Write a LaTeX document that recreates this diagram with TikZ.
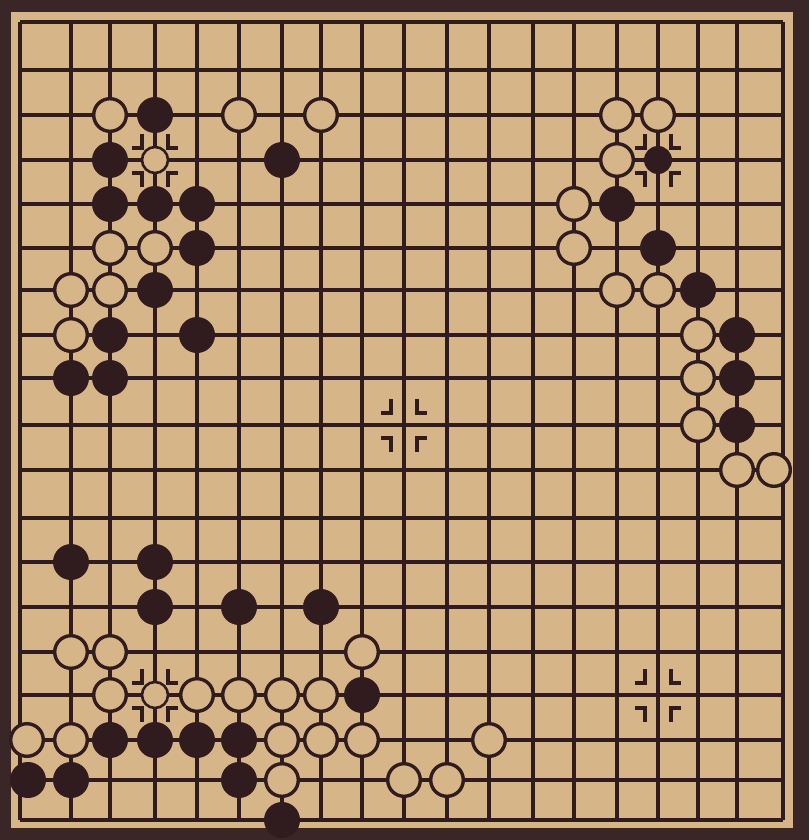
\documentclass[tikz,border=0pt]{standalone}
\definecolor{paper}{RGB}{214,181,136}
\definecolor{ink}{RGB}{48,28,30}
\definecolor{framec}{RGB}{58,38,38}
\begin{document}
\begin{tikzpicture}[x=0.5pt,y=-0.5pt,
  gridline/.style={ink,line width=1.6pt},
  bstone/.style={circle,fill=ink,minimum size=18pt,inner sep=0pt},
  wstone/.style={circle,draw=ink,fill=paper,line width=1.7pt,minimum size=16.3pt,inner sep=0pt},
  bsmall/.style={circle,fill=ink,minimum size=14pt,inner sep=0pt},
  wsmall/.style={circle,draw=ink,fill=paper,line width=1.3pt,minimum size=13pt,inner sep=0pt},
  starmark/.style={ink,line width=1.9pt}]
\useasboundingbox (0,0) rectangle (809,840);
\fill[framec] (0,0) rectangle (809,840);
\fill[paper] (11,12) rectangle (793,828);
% intersections
\foreach \x [count=\i] in {20,71,110,155,197,239,282,321,362,404,447,489,533,574,617,658,698,737,783}{
  \foreach \y [count=\j] in {22,70,115,160,204,248,290,335,378,425,470,518,562,607,652,695,740,780,820}{
    \coordinate (p-\i-\j) at (\x,\y);
  }
}
% grid
\foreach \i in {1,...,19}{
  \draw[gridline] (p-\i-1) -- (p-\i-19);
  \draw[gridline] (p-1-\i) -- (p-19-\i);
}
% star point marks
\foreach \c/\r in {4/4,16/4,10/10,4/16,16/16}{
  \draw[starmark] ([shift={(-13,-26)}]p-\c-\r) -- ++(0,14) -- ++(-10,0);
  \draw[starmark] ([shift={(13,-26)}]p-\c-\r) -- ++(0,14) -- ++(10,0);
  \draw[starmark] ([shift={(-23,13)}]p-\c-\r) -- ++(10,0) -- ++(0,14);
  \draw[starmark] ([shift={(23,13)}]p-\c-\r) -- ++(-10,0) -- ++(0,14);
}
% white stones
\foreach \c/\r in {3/3,6/3,8/3,15/3,16/3,15/4,14/5,3/6,4/6,14/6,2/7,3/7,15/7,16/7,
  2/8,17/8,17/9,17/10,18/11,2/15,3/15,9/15,3/16,5/16,6/16,7/16,8/16,
  2/17,7/17,8/17,9/17,12/17,7/18,10/18,11/18}{
  \node[wstone] (w-\c-\r) at (p-\c-\r) {};
}
\node[wstone] (w-1-17) at ([xshift=3.5pt]p-1-17) {};
\node[wstone] (w-19-11) at ([xshift=-4.5pt]p-19-11) {};
\node[wsmall] (w-4-4) at (p-4-4) {};
\node[wsmall] (w-4-16) at (p-4-16) {};
% black stones
\foreach \c/\r in {4/3,3/4,7/4,3/5,4/5,5/5,15/5,5/6,16/6,4/7,17/7,3/8,5/8,18/8,
  2/9,3/9,18/9,18/10,2/13,4/13,4/14,6/14,8/14,9/16,3/17,4/17,5/17,6/17,
  2/18,6/18,7/19}{
  \node[bstone] (b-\c-\r) at (p-\c-\r) {};
}
\node[bstone] (b-1-18) at ([xshift=4pt]p-1-18) {};
\node[bsmall] (b-16-4) at (p-16-4) {};
\end{tikzpicture}
\end{document}
